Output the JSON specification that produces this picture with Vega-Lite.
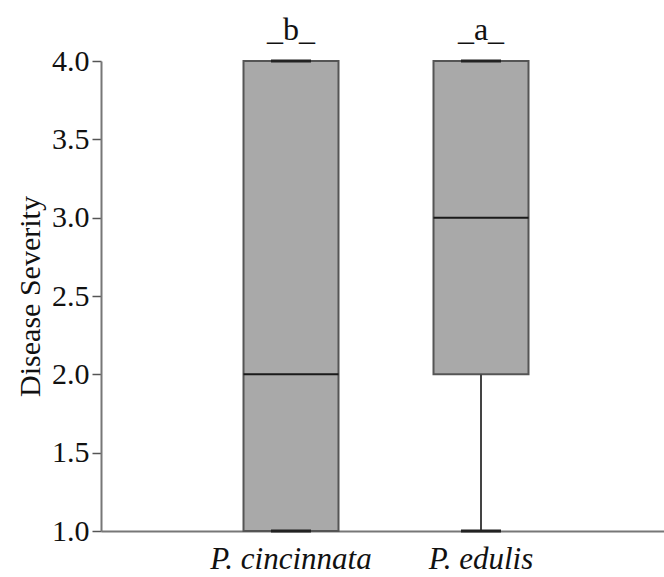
{
  "$schema": "https://vega.github.io/schema/vega-lite/v6.json",
  "autosize": "none",
  "width": 563,
  "height": 470,
  "padding": {"left": 101, "top": 61, "right": 0, "bottom": 46},
  "background": "white",
  "data": {"values": [
    {"species": "P. cincinnata", "min": 1, "q1": 1, "median": 2, "q3": 4, "max": 4, "letter": "_b_"},
    {"species": "P. edulis", "min": 1, "q1": 2, "median": 3, "q3": 4, "max": 4, "letter": "_a_"}
  ]},
  "config": {
    "view": {"stroke": null},
    "font": "Times New Roman, Liberation Serif, DejaVu Serif, serif",
    "axis": {"grid": false}
  },
  "encoding": {
    "x": {
      "field": "species", "type": "nominal",
      "scale": {"domain": ["P. cincinnata", "P. edulis"], "paddingInner": 0.5, "paddingOuter": 0.7316, "align": 0.5126},
      "axis": {"title": null, "labelAngle": 0, "ticks": false, "labelFont": "Times New Roman, Liberation Serif, DejaVu Serif, serif", "labelFontStyle": "italic", "labelFontSize": 31, "labelColor": "#111", "labelPadding": 13, "domainColor": "#777", "domainWidth": 2}
    }
  },
  "layer": [
    {
      "mark": {"type": "bar", "fill": "#a9a9a9", "stroke": "#555", "strokeWidth": 2, "width": {"band": 1}},
      "encoding": {
        "y": {"field": "q1", "type": "quantitative",
          "scale": {"domain": [1, 4], "nice": false, "zero": false},
          "axis": {"title": "Disease Severity", "titleFont": "Times New Roman, Liberation Serif, DejaVu Serif, serif", "titleFontWeight": "normal", "titleFontSize": 30, "titleColor": "#111", "titlePadding": 6,
            "values": [1, 1.5, 2, 2.5, 3, 3.5, 4], "format": ".1f", "labelFont": "Times New Roman, Liberation Serif, DejaVu Serif, serif", "labelFontSize": 30, "labelColor": "#111", "labelPadding": 3, "tickSize": 9, "tickColor": "#555", "tickWidth": 1.5, "domainColor": "#777", "domainWidth": 2}},
        "y2": {"field": "q3"}
      }
    },
    {
      "mark": {"type": "rule", "color": "#444", "strokeWidth": 2},
      "encoding": {"y": {"field": "min", "type": "quantitative"}, "y2": {"field": "q1"}}
    },
    {
      "mark": {"type": "rule", "color": "#444", "strokeWidth": 2},
      "encoding": {"y": {"field": "q3", "type": "quantitative"}, "y2": {"field": "max"}}
    },
    {
      "mark": {"type": "tick", "color": "#1a1a1a", "thickness": 2, "size": 95, "opacity": 1},
      "encoding": {"y": {"field": "median", "type": "quantitative"}}
    },
    {
      "mark": {"type": "tick", "color": "#222", "thickness": 3, "size": 40, "opacity": 1},
      "encoding": {"y": {"field": "min", "type": "quantitative"}}
    },
    {
      "mark": {"type": "tick", "color": "#222", "thickness": 3, "size": 40, "opacity": 1},
      "encoding": {"y": {"field": "max", "type": "quantitative"}}
    },
    {
      "mark": {"type": "text", "font": "Times New Roman, Liberation Serif, DejaVu Serif, serif", "fontSize": 32, "color": "#111", "baseline": "alphabetic", "dy": -21},
      "encoding": {"y": {"field": "max", "type": "quantitative"}, "text": {"field": "letter"}}
    }
  ]
}
